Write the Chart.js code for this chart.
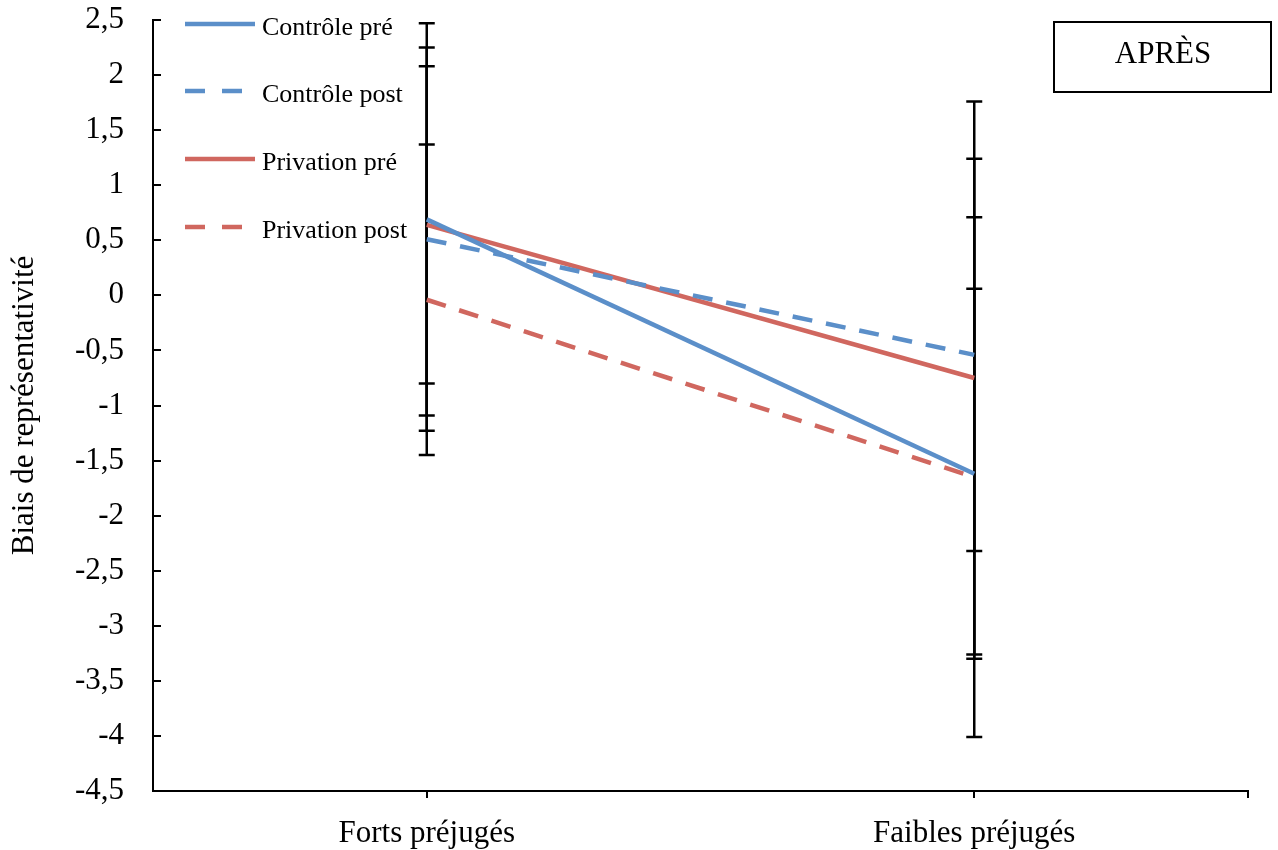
<!DOCTYPE html>
<html>
<head>
<meta charset="utf-8">
<script src="https://cdn.jsdelivr.net/npm/chart.js@4"></script>
<style>
  body { margin: 0; background: #fff; }
  #wrap { width: 1278px; height: 850px; }
</style>
</head>
<body>
<div id="wrap"><canvas id="chart" width="1278" height="850"></canvas></div>
<script>
const categories = ['Forts préjugés', 'Faibles préjugés'];
const controlePre = [0.69, -1.62];
const controlePost = [0.51, -0.54];
const privationPre = [0.64, -0.75];
const privationPost = [-0.04, -1.65];
const errControlePre = [1.78, 1.68];
const errControlePost = [1.74, 1.78];
const errPrivationPre = [1.44, 2.51];
const errPrivationPost = [1.41, 2.36];
const yTicks = [2.5, 2, 1.5, 1, 0.5, 0, -0.5, -1, -1.5, -2, -2.5, -3, -3.5, -4, -4.5];

const BLUE = '#5B8FC9';
const RED = '#D0675F';
const FONT = '"Liberation Serif", "Times New Roman", serif';

const errors = [errControlePre, errControlePost, errPrivationPre, errPrivationPost];

// error bars, drawn under the lines
const errorBars = {
  id: 'errorBars',
  beforeDatasetsDraw(chart) {
    const ctx = chart.ctx;
    const x = chart.scales.x, y = chart.scales.y;
    ctx.save();
    ctx.strokeStyle = '#000';
    ctx.lineWidth = 2.5;
    chart.data.datasets.forEach((ds, i) => {
      ds.data.forEach((v, j) => {
        const e = errors[i][j];
        const px = x.getPixelForValue(j);
        const top = y.getPixelForValue(v + e);
        const bot = y.getPixelForValue(v - e);
        ctx.beginPath();
        ctx.moveTo(px, top); ctx.lineTo(px, bot);
        ctx.moveTo(px - 8, top); ctx.lineTo(px + 8, top);
        ctx.moveTo(px - 8, bot); ctx.lineTo(px + 8, bot);
        ctx.stroke();
      });
    });
    ctx.restore();
  }
};

// inner ticks on y axis, end tick on x axis, legend and "APRÈS" box
const decorations = {
  id: 'decorations',
  afterDraw(chart) {
    const ctx = chart.ctx;
    const y = chart.scales.y;
    const area = chart.chartArea;
    ctx.save();
    ctx.strokeStyle = '#000';
    ctx.lineWidth = 2;
    ctx.beginPath();
    yTicks.forEach(t => {
      const py = Math.round(y.getPixelForValue(t));
      ctx.moveTo(area.left, py); ctx.lineTo(area.left + 8, py);
    });
    ctx.moveTo(area.right, area.bottom); ctx.lineTo(area.right, area.bottom + 7);
    ctx.stroke();

    // legend
    const rows = [24, 91, 159, 227];
    ctx.font = '26px ' + FONT;
    ctx.textBaseline = 'middle';
    ctx.fillStyle = '#000';
    chart.data.datasets.forEach((ds, i) => {
      ctx.strokeStyle = ds.borderColor;
      ctx.lineWidth = 4.5;
      ctx.setLineDash(ds.borderDash ? [20, 17] : []);
      ctx.beginPath();
      ctx.moveTo(185, rows[i]); ctx.lineTo(255, rows[i]);
      ctx.stroke();
      ctx.setLineDash([]);
      ctx.fillText(ds.label, 262, rows[i] + 4);
    });

    // APRÈS box
    ctx.strokeStyle = '#000';
    ctx.lineWidth = 2;
    ctx.strokeRect(1054, 22, 217, 70);
    ctx.font = '31px ' + FONT;
    ctx.textAlign = 'center';
    ctx.fillText('APRÈS', 1163, 55);
    ctx.restore();
  }
};

new Chart(document.getElementById('chart'), {
  type: 'line',
  data: {
    labels: categories,
    datasets: [
      { label: 'Contrôle pré', data: controlePre, borderColor: BLUE, borderWidth: 4.5 },
      { label: 'Contrôle post', data: controlePost, borderColor: BLUE, borderWidth: 4.5, borderDash: [20, 14] },
      { label: 'Privation pré', data: privationPre, borderColor: RED, borderWidth: 4.5 },
      { label: 'Privation post', data: privationPost, borderColor: RED, borderWidth: 4.5, borderDash: [20, 14] }
    ]
  },
  options: {
    responsive: false,
    animation: false,
    devicePixelRatio: 1,
    elements: { point: { radius: 0 }, line: { tension: 0, fill: false } },
    layout: { padding: { top: 20, right: 30, left: 0, bottom: 0 } },
    plugins: { legend: { display: false }, tooltip: { enabled: false } },
    scales: {
      x: {
        type: 'category',
        offset: true,
        grid: { display: true, offset: false, drawOnChartArea: false, drawTicks: true, tickLength: 7, color: '#000', lineWidth: 2 },
        border: { display: true, color: '#000', width: 2 },
        ticks: { color: '#000', font: { family: FONT, size: 31 }, padding: 17, maxRotation: 0 },
        afterFit(s) { s.height = 59; s.paddingLeft = 0; s.paddingRight = 0; }
      },
      y: {
        min: -4.5,
        max: 2.5,
        grid: { display: true, drawOnChartArea: false, drawTicks: false },
        border: { display: true, color: '#000', width: 2 },
        ticks: {
          stepSize: 0.5,
          color: '#000',
          padding: 29,
          font: { family: FONT, size: 31 },
          callback: v => String(v).replace('.', ',')
        },
        title: {
          display: true,
          text: 'Biais de représentativité',
          color: '#000',
          font: { family: FONT, size: 31 },
          padding: { top: 6, bottom: 0 }
        },
        afterFit(s) { s.width = 153; s.paddingTop = 0; s.paddingBottom = 0; }
      }
    }
  },
  plugins: [errorBars, decorations]
});
</script>
</body>
</html>
